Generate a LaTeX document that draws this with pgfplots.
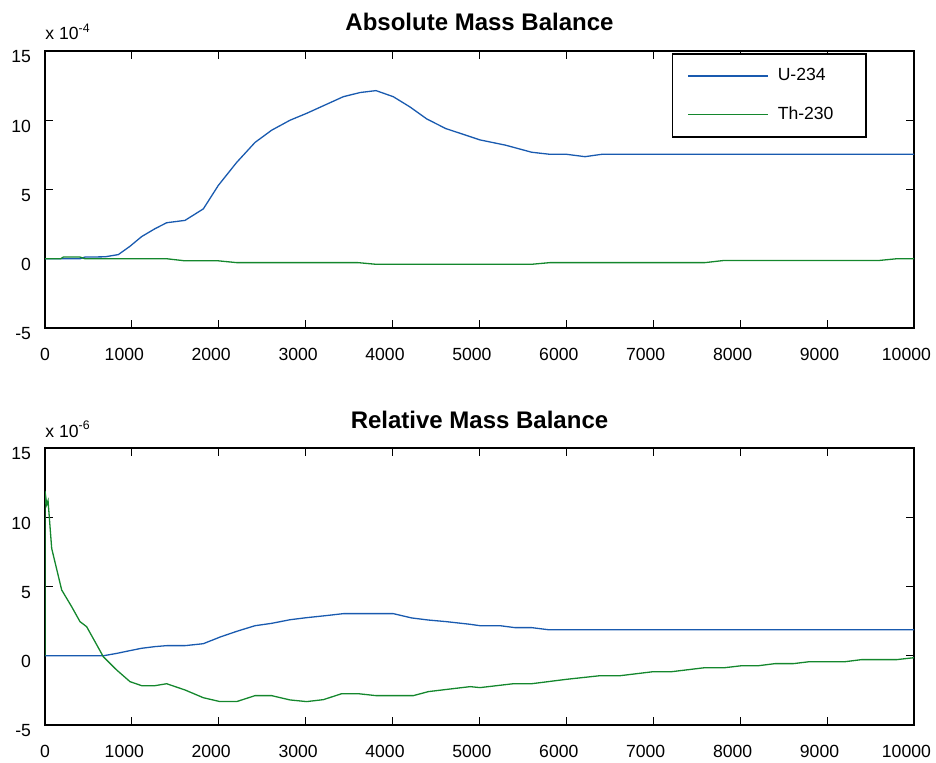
\documentclass[border=0pt]{standalone}
\usepackage{pgfplots}
\pgfplotsset{compat=1.18}
\usepackage{fontspec}
\setmainfont{Liberation Sans}
\definecolor{mblue}{RGB}{25,90,175}
\definecolor{mgreen}{RGB}{20,135,45}
\pgfplotsset{
  mstyle/.style={
    scale only axis, width=434.5pt, height=138.5pt, anchor=south west,
    xmin=0, xmax=10000, ymin=-5, ymax=15,
    xtick={0,1000,...,10000}, ytick={-5,0,5,10,15},
    xticklabels={{\hspace{7.6pt}0},1000,2000,3000,4000,5000,6000,7000,8000,9000,10000},
    scaled x ticks=false, scaled y ticks=false,
    /pgf/number format/set thousands separator={},
    /pgf/number format/assume math mode=true,
    tick align=inside, xtick pos=both, ytick pos=both,
    major tick length=3.8pt,
    axis line style={line width=0.6pt},
    tick style={line width=0.5pt, black},
    ticklabel style={font=\fontsize{8.8}{10}\selectfont},
    yticklabel style={xshift=-3.5pt, yshift=-3pt},
    xticklabel style={yshift=-6.5pt, xshift=-3.8pt},
    title style={at={(0.5,1)}, anchor=base, yshift=4pt, font=\fontsize{12}{14}\selectfont\bfseries},
    every axis plot/.append style={line width=0.65pt},
  }
}
\begin{document}
\begin{tikzpicture}
\path[use as bounding box] (0,0) rectangle (468pt,-381.5pt);
\begin{axis}[mstyle, name=ax1, at={(22.5pt,-164pt)}, title={Absolute Mass Balance},
  legend cell align=left,
  legend style={at={(0.721,0.993)}, anchor=north west, draw=black, line width=0.8pt,
    font=\fontsize{8.8}{10}\selectfont, inner xsep=7.5pt, inner ysep=5.25pt,
    row sep=7.5pt, text width=37pt},
  legend image code/.code={\draw[#1,line width=0.7pt] (0pt,0pt) -- (40pt,0pt);},
]
\addplot[mblue] coordinates {(0,0)(403,0)(460,0.12)(690,0.14)(844,0.3)(978,0.9)(1112,1.6)(1266,2.17)(1400,2.6)(1611,2.77)(1822,3.6)(1995,5.3)(2205,6.95)(2417,8.4)(2608,9.28)(2819,10.0)(3011,10.5)(3222,11.1)(3433,11.7)(3625,12.0)(3809,12.14)(4008,11.7)(4200,10.96)(4392,10.1)(4611,9.4)(4776,9.06)(5006,8.58)(5300,8.2)(5600,7.69)(5811,7.54)(6003,7.54)(6214,7.37)(6406,7.54)(10000,7.54)};
\addlegendentry{\hspace*{2.5pt}U-234}
\addplot[mgreen] coordinates {(0,0)(180,0)(211,0.12)(403,0.12)(460,0)(1400,0)(1611,-0.15)(1995,-0.15)(2205,-0.28)(3600,-0.28)(3809,-0.4)(5600,-0.4)(5811,-0.28)(7594,-0.28)(7806,-0.13)(9589,-0.13)(9801,0)(10000,0)};
\addlegendentry{\hspace*{2.5pt}Th-230}
\end{axis}
\node[anchor=base west, inner sep=0pt, font=\fontsize{8.8}{10}\selectfont] at ([yshift=5.5pt]ax1.north west) {x 10\textsuperscript{-4}};
\begin{axis}[mstyle, name=ax2, at={(22.5pt,-362.5pt)}, title={Relative Mass Balance}]
\addplot[mblue] coordinates {(0,0)(671,0)(825,0.17)(978,0.37)(1112,0.54)(1266,0.66)(1400,0.73)(1611,0.73)(1822,0.87)(2014,1.35)(2205,1.76)(2417,2.17)(2608,2.34)(2819,2.6)(3011,2.75)(3222,2.89)(3433,3.04)(3625,3.04)(4008,3.04)(4219,2.73)(4411,2.58)(4623,2.46)(4893,2.27)(5006,2.17)(5236,2.17)(5408,2.03)(5600,2.03)(5792,1.88)(10000,1.88)};
\addplot[mgreen] coordinates {(0,0)(0,11.9)(20,10.9)(35,11.2)(77,7.75)(192,4.75)(307,3.54)(403,2.46)(479,2.1)(575,1.02)(671,-0.07)(825,-1.03)(978,-1.87)(1112,-2.16)(1266,-2.16)(1400,-2.02)(1611,-2.47)(1822,-3.03)(2014,-3.31)(2205,-3.31)(2417,-2.88)(2608,-2.88)(2819,-3.19)(3011,-3.31)(3203,-3.17)(3414,-2.74)(3606,-2.74)(3809,-2.88)(4008,-2.88)(4238,-2.88)(4411,-2.59)(4623,-2.43)(4893,-2.23)(5006,-2.3)(5389,-2.02)(5600,-2.02)(6003,-1.7)(6387,-1.44)(6617,-1.44)(7000,-1.15)(7212,-1.15)(7595,-0.86)(7825,-0.86)(8017,-0.72)(8208,-0.72)(8400,-0.57)(8611,-0.57)(8795,-0.43)(9206,-0.43)(9397,-0.28)(9801,-0.28)(10000,-0.14)};
\end{axis}
\node[anchor=base west, inner sep=0pt, font=\fontsize{8.8}{10}\selectfont] at ([yshift=5.5pt]ax2.north west) {x 10\textsuperscript{-6}};
\end{tikzpicture}
\end{document}
